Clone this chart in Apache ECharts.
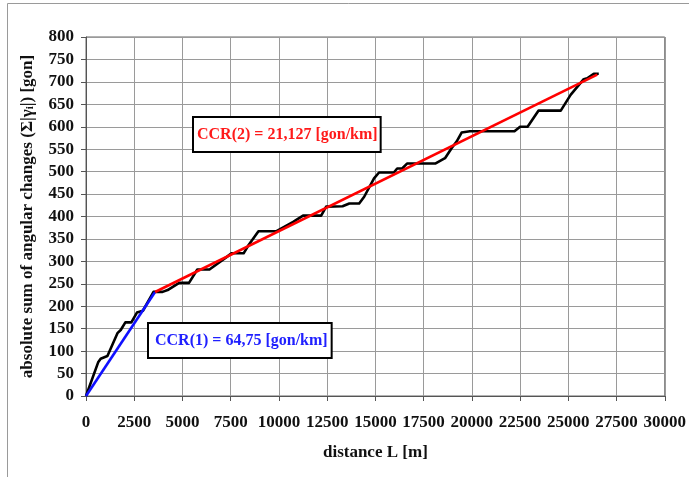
<!DOCTYPE html>
<html>
<head>
<meta charset="utf-8">
<script src="https://cdn.jsdelivr.net/npm/echarts@6/dist/echarts.min.js"></script>
<style>
  html, body { margin: 0; padding: 0; background: #fff; }
  #chart { width: 689px; height: 477px; }
</style>
</head>
<body>
<div id="chart"></div>
<script>
// Cumulative absolute angular change along the route: [distance m, sum gon]
const distance = [0, 630, 760, 1110, 1630, 1800, 2040, 2350, 2640, 2950, 3500, 3970, 4230, 4830, 5340, 5770, 6400, 7300, 7540, 8170, 8420, 8940, 9850, 10740, 11250, 12190, 12450, 13300, 13650, 14160, 14420, 14930, 15190, 15960, 16130, 16390, 16640, 18100, 18610, 18950, 19210, 19470, 19900, 22210, 22500, 22890, 23460, 24610, 25120, 25800, 25980, 26320, 26580];
const angleSum = [0, 75, 83, 89, 140, 147, 164, 164, 186, 190, 232, 232, 236, 252, 252, 282, 282, 310, 318, 318, 336, 367, 367, 388, 402, 402, 422, 423, 429, 429, 444, 485, 498, 498, 507, 507, 518, 518, 530, 552, 567, 587, 590, 590, 600, 600, 636, 636, 671, 706, 708, 718, 718];

// Curvature change rate segments (endpoints), slopes 64,75 and 21,127 gon/km
const ccr1Dist = [0, 3580];
const ccr1Gon = [0, 231.8];
const ccr2Dist = [3580, 26500];
const ccr2Gon = [231.8, 716.0];

const ccr1Label = 'CCR(1) = 64,75 [gon/km]';
const ccr2Label = 'CCR(2) = 21,127 [gon/km]';

const xTicks = { min: 0, max: 30000, interval: 2500 };
const yTicks = { min: 0, max: 800, interval: 50 };

const pairs = (xs, ys) => xs.map((x, i) => [x, ys[i]]);

const FONT = '"Liberation Serif", "Times New Roman", serif';
const chart = echarts.init(document.getElementById('chart'), null, { renderer: 'canvas' });

chart.setOption({
  animation: false,
  backgroundColor: '#ffffff',
  grid: { left: 86, right: 19, top: 37, bottom: 81, show: true, borderColor: '#666', borderWidth: 1 },
  xAxis: {
    type: 'value',
    min: xTicks.min, max: xTicks.max, interval: xTicks.interval,
    name: 'distance L [m]',
    nameLocation: 'middle',
    nameGap: 48,
    nameTextStyle: { fontFamily: FONT, fontWeight: 'bold', fontSize: 17, color: '#111' },
    axisLine: { show: true, lineStyle: { color: '#555', width: 1 } },
    axisTick: { show: true, inside: false, length: 5, lineStyle: { color: '#555' } },
    axisLabel: {
      fontFamily: FONT, fontWeight: 'bold', fontSize: 17, color: '#111', margin: 18,
      hideOverlap: false, showMaxLabel: true, showMinLabel: true,
      formatter: v => String(v)
    },
    splitLine: { show: true, lineStyle: { color: '#9a9a9a', width: 1 } }
  },
  yAxis: {
    type: 'value',
    min: yTicks.min, max: yTicks.max, interval: yTicks.interval,
    name: '{t|absolute sum of angular changes (Σ|γ}{s|i}{t||) [gon]}',
    nameLocation: 'middle',
    nameGap: 50,
    nameRotate: 90,
    nameTextStyle: {
      fontFamily: FONT, fontWeight: 'bold', fontSize: 17, color: '#111',
      rich: {
        t: { fontFamily: FONT, fontWeight: 'bold', fontSize: 17, color: '#111' },
        s: { fontFamily: FONT, fontWeight: 'bold', fontSize: 11, color: '#111', padding: [6, 0, 0, 0] }
      }
    },
    axisLine: { show: true, lineStyle: { color: '#555', width: 1 } },
    axisTick: { show: true, inside: false, length: 5, lineStyle: { color: '#555' } },
    axisLabel: { fontFamily: FONT, fontWeight: 'bold', fontSize: 17, color: '#111', margin: 12 },
    splitLine: { show: true, lineStyle: { color: '#9a9a9a', width: 1 } }
  },
  series: [
    {
      name: 'sum',
      type: 'line',
      data: pairs(distance, angleSum),
      showSymbol: false,
      lineStyle: { color: '#000', width: 2.6, join: 'round' },
      z: 2
    },
    {
      name: 'CCR(1)',
      type: 'line',
      data: pairs(ccr1Dist, ccr1Gon),
      showSymbol: false,
      lineStyle: { color: '#1010ff', width: 2.6 },
      z: 3
    },
    {
      name: 'CCR(2)',
      type: 'line',
      data: pairs(ccr2Dist, ccr2Gon),
      showSymbol: false,
      lineStyle: { color: '#ff0000', width: 2.6 },
      z: 3
    }
  ],
  graphic: [
    {
      type: 'polyline',
      silent: true,
      shape: { points: [[7.5, 480], [7.5, 3.5], [690, 3.5]] },
      style: { stroke: '#9a9a9a', lineWidth: 1, fill: null },
      z: 0
    },
    {
      type: 'text',
      left: 192, top: 116,
      z: 10,
      style: {
        text: ccr2Label,
        font: 'bold 16px ' + FONT,
        fill: '#ff1a1a',
        backgroundColor: '#fff',
        borderColor: '#000',
        borderWidth: 2,
        padding: [9, 2, 8, 3]
      }
    },
    {
      type: 'text',
      left: 147, top: 322,
      z: 10,
      style: {
        text: ccr1Label,
        font: 'bold 16px ' + FONT,
        fill: '#2020ff',
        backgroundColor: '#fff',
        borderColor: '#000',
        borderWidth: 2,
        padding: [9, 3, 8, 6]
      }
    }
  ]
});
</script>
</body>
</html>
